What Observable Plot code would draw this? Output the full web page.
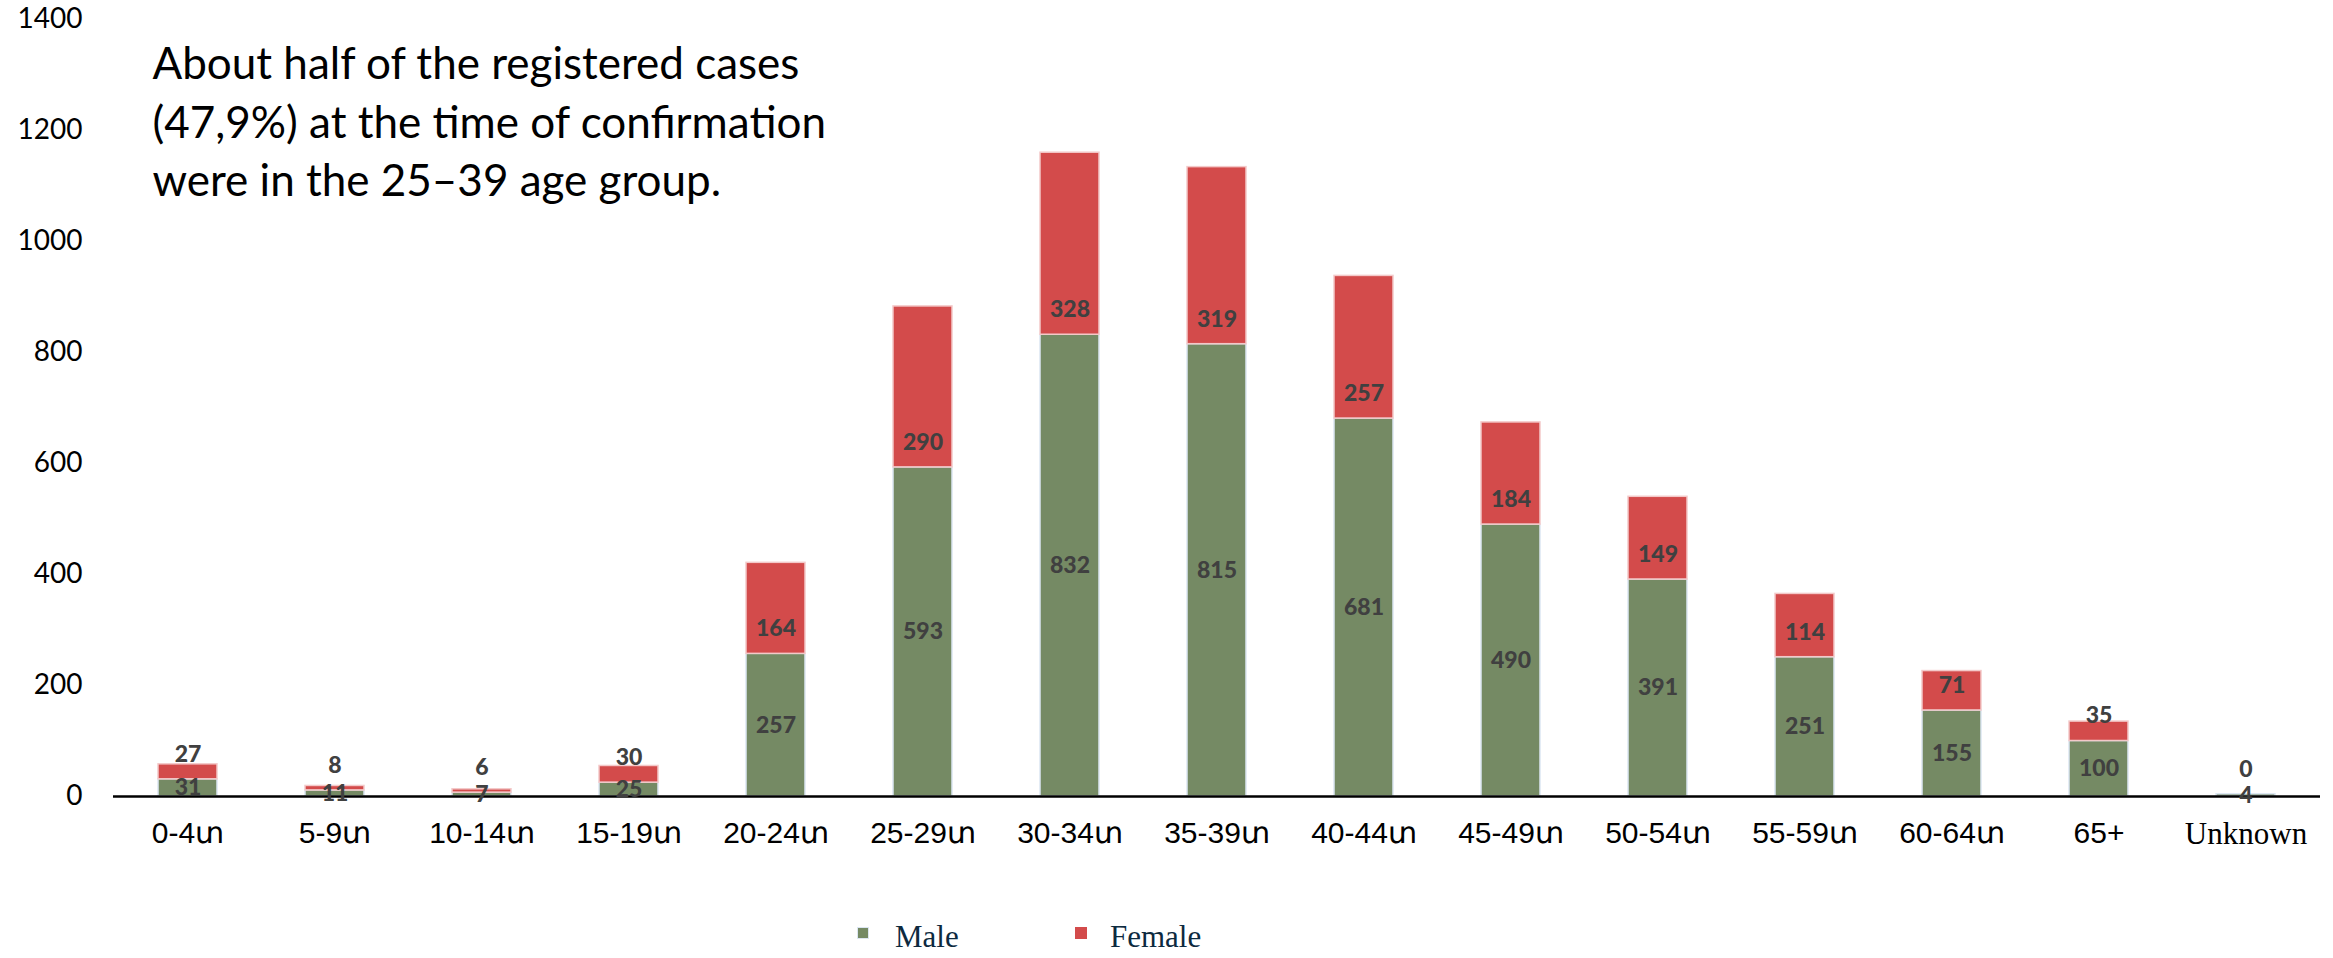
<!DOCTYPE html>
<html>
<head>
<meta charset="utf-8">
<script src="https://cdn.jsdelivr.net/npm/d3@7"></script>
<script src="https://cdn.jsdelivr.net/npm/@observablehq/plot@0.6"></script>
<style>
  html, body { margin: 0; padding: 0; background: #fff; }
  #wrap { position: relative; width: 2333px; height: 958px; overflow: hidden; }
  .leg { position: absolute; top: 921px; font-family: "Liberation Serif", serif; font-size: 31px; line-height: 31px; color: #0d2a3f; white-space: nowrap; }
  .sw { position: absolute; width: 10px; height: 10px; top: 927px; }
</style>
</head>
<body>
<div id="wrap"></div>
<script>
const ages = ["0-4տ","5-9տ","10-14տ","15-19տ","20-24տ","25-29տ","30-34տ","35-39տ","40-44տ","45-49տ","50-54տ","55-59տ","60-64տ","65+","Unknown"];
const male   = [31, 11, 7, 25, 257, 593, 832, 815, 681, 490, 391, 251, 155, 100, 4];
const female = [27, 8, 6, 30, 164, 290, 328, 319, 257, 184, 149, 114, 71, 35, 0];
const yTicks = [0, 200, 400, 600, 800, 1000, 1200, 1400];
const titleLines = "About half of the registered cases\n(47,9%) at the time of confirmation\nwere in the 25–39 age group.";

const maleColor = "#758a64";
const femaleColor = "#d34b4b";

const rows = ages.map((a, i) => ({age: a, male: male[i], female: female[i]}));

const chart = Plot.plot({
  width: 2333,
  height: 880,
  marginLeft: 113,
  marginRight: 13,
  marginTop: 19,
  marginBottom: 84,
  style: {background: "#fff"},
  x: {domain: ages, paddingInner: 0.6, paddingOuter: 0.3, label: null},
  y: {domain: [0, 1400], label: null},
  marks: [
    Plot.axisY({ticks: yTicks, tickFormat: d => String(d), tickSize: 0, tickPadding: 31, fontSize: 28, fontFamily: "Lato", fill: "#000", label: null}),
    Plot.axisX({tickSize: 0, tickPadding: 25, fontSize: 30, fontFamily: "Liberation Sans", fill: "#000", label: null}),
    Plot.barY(rows, {x: "age", y1: 0, y2: "male", fill: maleColor, stroke: "#dce6f2", strokeWidth: 1.5}),
    Plot.barY(rows, {x: "age", y1: "male", y2: d => d.male + d.female, fill: femaleColor, stroke: "#f3c9c9", strokeWidth: 1.5}),
    Plot.ruleY([0], {stroke: "#000", strokeWidth: 2.5}),
    Plot.text(rows, {x: "age", y: d => d.male / 2, text: d => String(d.male), fontSize: 23, fontWeight: 900, fontFamily: "Lato", fill: "#404040"}),
    Plot.text(rows, {x: "age", y: "male", dy: -25, text: d => String(d.female), fontSize: 23, fontWeight: 900, fontFamily: "Lato", fill: "#404040"}),
    Plot.text([titleLines], {frameAnchor: "top-left", text: d => d, textAnchor: "start", lineAnchor: "top", dx: 39, dy: 18, fontSize: 44, lineHeight: 58.5 / 44, fontFamily: "Lato", fill: "#000"})
  ]
});

const wrap = document.getElementById("wrap");
wrap.appendChild(chart);

// "Unknown" category label is set in a serif face in the original
d3.select(chart).selectAll("text").filter(function() { return this.textContent === "Unknown"; })
  .attr("font-family", "Liberation Serif").attr("font-size", 31);

const legendItems = [
  {name: "Male", color: maleColor, border: "#dce6f2", sx: 857, tx: 895},
  {name: "Female", color: femaleColor, border: femaleColor, sx: 1075, tx: 1110}
];
for (const it of legendItems) {
  const sw = document.createElement("div");
  sw.className = "sw";
  sw.style.left = it.sx + "px";
  sw.style.background = it.color;
  sw.style.border = "1.5px solid " + it.border;
  wrap.appendChild(sw);
  const t = document.createElement("div");
  t.className = "leg";
  t.style.left = it.tx + "px";
  t.textContent = it.name;
  wrap.appendChild(t);
}
</script>
</body>
</html>
